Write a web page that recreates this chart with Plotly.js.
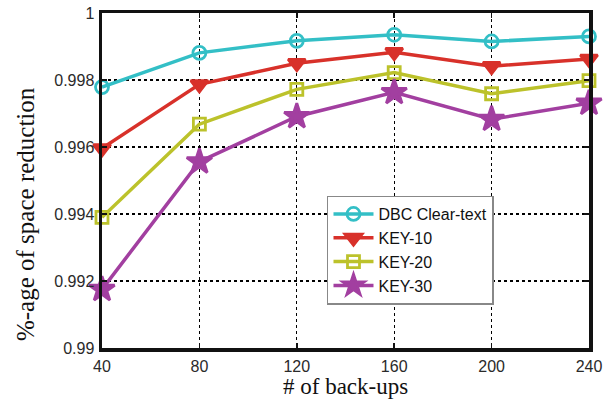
<!DOCTYPE html>
<html><head><meta charset="utf-8">
<script src="https://cdn.plot.ly/plotly-3.0.1.min.js"></script>
<style>body{margin:0;background:#fff}#c{width:614px;height:399px}</style>
</head><body><div id="c"></div>
<script>
const backups = [40, 80, 120, 160, 200, 240];
const dbcClear = [0.99779, 0.99881, 0.99917, 0.99935, 0.99915, 0.99930];
const key10 = [0.99596, 0.99787, 0.99850, 0.99883, 0.99841, 0.99863];
const key20 = [0.99390, 0.99668, 0.99772, 0.99822, 0.99759, 0.99798];
const key30 = [0.99175, 0.99556, 0.99691, 0.99763, 0.99683, 0.99731];
const yTicks = [0.99, 0.992, 0.994, 0.996, 0.998, 1];
const yTickText = ['0.99', '0.992', '0.994', '0.996', '0.998', '1'];
const names = ['DBC Clear-text', 'KEY-10', 'KEY-20', 'KEY-30'];
const xTitle = '# of back-ups';
const yTitle = '%-age of space reduction';
const colors = ['#33bfc6', '#d8312a', '#bcc22b', '#a23fa0'];
const symbols = ['circle-open', 'triangle-down', 'square-open', 'star'];
const sizes = [13, 15, 12, 19];
const series = [dbcClear, key10, key20, key30];
const traces = series.map((s, i) => ({
  x: backups, y: s, name: names[i], type: 'scatter', mode: 'lines+markers', cliponaxis: false,
  line: {color: colors[i], width: 3.5},
  marker: {symbol: symbols[i], size: sizes[i], color: colors[i], line: {color: colors[i], width: 2.8}}
}));
const serif = 'Liberation Serif, Times New Roman, serif';
const axBase = {showline: true, linecolor: '#111', linewidth: 3.5, mirror: 'ticks', ticks: 'inside', ticklen: 5,
  tickcolor: '#111', tickwidth: 1.5, showgrid: true, gridcolor: '#000', griddash: 'dot', gridwidth: 1.3, zeroline: false,
  ticklabelstandoff: 1,
  tickfont: {family: 'Liberation Sans, Arial, sans-serif', size: 16, color: '#2a2a2a'}};
const layout = {
  width: 614, height: 399, margin: {l: 102, r: 25, t: 13, b: 51},
  paper_bgcolor: '#fff', plot_bgcolor: '#fff', showlegend: true,
  xaxis: Object.assign({}, axBase, {range: [40, 240], tickvals: backups, ticktext: backups.map(String)}),
  yaxis: Object.assign({}, axBase, {range: [0.99, 1], tickvals: yTicks, ticktext: yTickText}),
  annotations: [
    {text: xTitle, xref: 'paper', yref: 'paper', x: 0.5, y: -0.115, xanchor: 'center', yanchor: 'middle',
      showarrow: false, font: {family: serif, size: 23, color: '#111'}},
    {text: yTitle, xref: 'paper', yref: 'paper', x: -0.158, y: 0.40, xanchor: 'center', yanchor: 'middle',
      textangle: -90, showarrow: false, font: {family: serif, size: 25, color: '#111'}}
  ],
  legend: {x: 0.462, y: 0.455, xanchor: 'left', yanchor: 'top', bgcolor: '#fff', bordercolor: '#888', borderwidth: 1.5,
    font: {family: 'Liberation Sans, Arial, sans-serif', size: 16, color: '#111'}, itemwidth: 40}
};
Plotly.newPlot('c', traces, layout, {displayModeBar: false, staticPlot: true});
</script></body></html>
